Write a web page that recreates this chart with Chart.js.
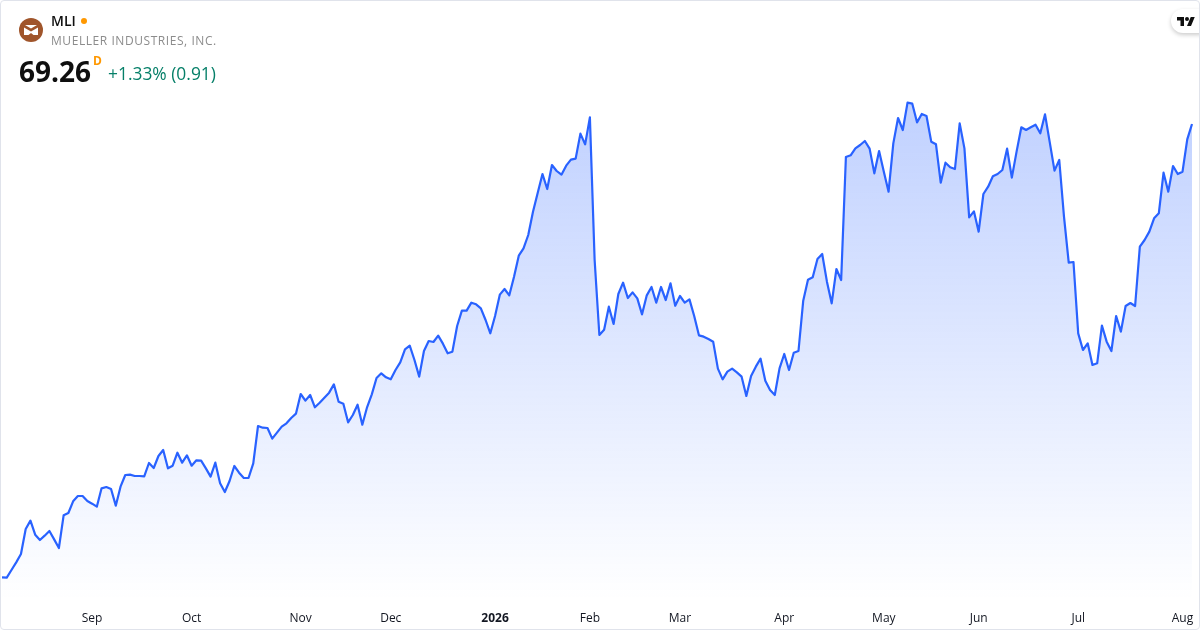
<!DOCTYPE html>
<html>
<head>
<meta charset="utf-8">
<title>MLI</title>
<script src="https://cdn.jsdelivr.net/npm/chart.js@4/dist/chart.umd.min.js"></script>
<style>
    html, body { margin: 0; padding: 0; background: #fff; }
    #card { position: relative; width: 1200px; height: 630px; overflow: hidden; font-family: "Open Sans", sans-serif; }
    #card::after { content: ''; position: absolute; left: 0; top: 0; right: 0; bottom: 0; box-sizing: border-box; border: 1px solid #e0e3eb; border-radius: 4px; pointer-events: none; }
    canvas { position: absolute; left: 0; top: 0; }
    .txt { position: absolute; white-space: nowrap; }
    #logo { position: absolute; left: 19px; top: 18px; width: 24px; height: 24px; }
    #symbol { left: 51px; top: 12px; font-size: 14px; line-height: 18px; font-weight: 600; color: #0f0f0f; }
    #dot { position: absolute; left: 81px; top: 18px; width: 6px; height: 6px; border-radius: 50%; background: #ff9800; }
    #name { left: 51px; top: 32px; font-size: 12px; line-height: 17px; letter-spacing: 0.56px; color: #8c8c8c; }
    #price { left: 19px; top: 53px; font-size: 28px; line-height: 36px; font-weight: 700; color: #0f0f0f; }
    #delayed { left: 93px; top: 54px; font-size: 12px; line-height: 14px; font-weight: 700; color: #ff9800; }
    #change { left: 108px; top: 62px; font-size: 17.4px; line-height: 23px; color: #057f68; }
    #tvbadge { position: absolute; left: 1171px; top: 9px; width: 40px; height: 24px; border-radius: 12px; background: #fff; box-shadow: 0 2px 4px rgba(0, 0, 0, 0.2); }
    #tvbadge svg { position: absolute; left: 6px; top: 6px; width: 18px; height: 14px; }
</style>
</head>
<body>
<div id="card">
    <canvas id="chart" width="1200" height="630"></canvas>
    <svg id="logo" viewBox="0 0 24 24">
        <circle cx="12" cy="12" r="12" fill="#a0552b"/>
        <path d="M6 7h12l-6 3.5z M5 9.5l7 4 7-4V17h-4.5l-2.5-2-2.5 2H5z" fill="#fff"/>
    </svg>
    <div class="txt" id="symbol">MLI</div>
    <div id="dot"></div>
    <div class="txt" id="name">MUELLER INDUSTRIES, INC.</div>
    <div class="txt" id="price">69.26</div>
    <div class="txt" id="delayed">D</div>
    <div class="txt" id="change">+1.33% (0.91)</div>
    <div id="tvbadge">
        <svg viewBox="0 0 36 28"><path d="M14 22H7V11H0V4h14v18zM28 22h-8l7.5-18h8L28 22z" fill="#0f0f0f"/><circle cx="20" cy="8" r="4" fill="#0f0f0f"/></svg>
    </div>
</div>
<script>
// Daily closes, Aug 2025 to Aug 2026
const closes = [
    42.06, 42.04, 42.5, 42.96, 43.46, 44.96, 45.46, 44.62, 44.3, 44.56, 44.84, 44.34, 43.82, 45.78, 45.92, 46.62,
    46.94, 46.94, 46.64, 46.48, 46.3, 47.4, 47.48, 47.36, 46.36, 47.5, 48.2, 48.22, 48.14, 48.14, 48.12, 48.92,
    48.62, 49.34, 49.7, 48.6, 48.76, 49.54, 48.94, 49.38, 48.76, 49.08, 49.06, 48.6, 48.1, 48.94, 47.7, 47.18,
    47.84, 48.74, 48.34, 48.02, 48.02, 48.9, 51.14, 51.04, 51.02, 50.38, 50.74, 51.1, 51.3, 51.62, 51.88,
    53.06, 52.66, 53.0, 52.26, 52.54, 52.84, 53.14, 53.64, 52.6, 52.48, 51.36, 51.8, 52.42, 51.22, 52.26, 53.04,
    54.02, 54.3, 54.06, 53.94, 54.5, 54.96, 55.74, 55.96, 55.1, 54.1, 55.64, 56.24, 56.18, 56.56, 56.08, 55.5,
    55.6, 57.14, 58.06, 58.06, 58.54, 58.44, 58.2, 57.5, 56.7, 57.74, 59.02, 59.36, 58.98,
    60.1, 61.36, 61.8, 62.6, 64.0, 65.14, 66.26, 65.36, 66.8, 66.44, 66.22, 66.76, 67.12, 67.18, 68.68, 68.04,
    69.66, 61.1, 56.6, 56.92, 58.3, 57.26, 59.06, 59.74, 58.82, 59.16, 58.8, 57.84, 58.98, 59.48, 58.54, 59.48,
    58.7, 59.7, 58.36, 58.94, 58.54, 58.74, 57.74, 56.58, 56.5, 56.36, 56.2, 54.58, 53.94, 54.4, 54.58, 54.36,
    54.1, 52.94, 54.14, 54.7, 55.18, 53.86, 53.3, 53.0, 54.6,
    55.46, 54.5, 55.54, 55.64, 58.66, 59.92, 60.06, 61.16, 61.46, 59.8, 58.5, 60.56, 59.9, 67.28, 67.38, 67.8,
    68.0, 68.24, 67.78, 66.3, 67.64, 66.4, 65.2, 68.1, 69.62, 68.9, 70.54, 70.48, 69.36, 69.86, 69.74, 68.2,
    68.04, 65.74, 66.94, 66.66, 66.56, 69.3, 67.8, 63.66, 64.02, 62.8, 65.06, 65.5, 66.12, 66.26, 66.5, 67.78,
    66.04, 67.6, 69.06, 68.9, 69.06, 69.22, 68.7, 69.84, 68.16, 66.46, 67.1, 63.7, 60.94,
    60.98, 56.7, 55.7, 56.1, 54.8, 54.9, 57.16, 56.2, 55.64, 57.74, 56.8, 58.34, 58.52, 58.34, 61.9, 62.3,
    62.8, 63.6, 63.9, 66.34, 65.2, 66.74, 66.26, 66.4, 68.34, 69.26
];
const categories = closes.map((c, i) => i);

// Month labels and the bar each one sits on
const tickIndexes = [19, 40, 63, 82, 104, 124, 143, 165, 186, 206, 227, 249];
const tickLabels = ['Sep', 'Oct', 'Nov', 'Dec', '2026', 'Feb', 'Mar', 'Apr', 'May', 'Jun', 'Jul', 'Aug'];

const priceMin = 40.7;
const priceMax = 71.3;

new Chart(document.getElementById('chart'), {
    type: 'line',
    data: {
        labels: categories,
        datasets: [{
            data: closes,
            borderColor: '#2962ff',
            borderWidth: 2.2,
            borderJoinStyle: 'round',
            pointRadius: 0,
            tension: 0,
            fill: 'start',
            backgroundColor: function(context) {
                const area = context.chart.chartArea;
                if (!area) return 'transparent';
                const gradient = context.chart.ctx.createLinearGradient(0, area.top, 0, area.bottom);
                gradient.addColorStop(0, 'rgba(41, 98, 255, 0.3)');
                gradient.addColorStop(1, 'rgba(41, 98, 255, 0)');
                return gradient;
            }
        }]
    },
    options: {
        responsive: false,
        animation: false,
        layout: { padding: { left: 2, right: 8, top: 90, bottom: 0 } },
        plugins: { legend: { display: false }, tooltip: { enabled: false } },
        scales: {
            x: {
                type: 'category',
                offset: false,
                border: { display: false },
                grid: { display: false, drawTicks: false },
                afterFit: function(axis) {
                    axis.height = 30;
                    axis.paddingLeft = 0;
                    axis.paddingRight = 0;
                },
                ticks: {
                    autoSkip: false,
                    maxRotation: 0,
                    padding: 11,
                    color: '#131722',
                    font: {
                        family: '"Open Sans", sans-serif',
                        size: 12,
                        weight: function(context) {
                            return context.tick && context.tick.label === '2026' ? 'bold' : 'normal';
                        }
                    },
                    callback: function(value, index) {
                        const pos = tickIndexes.indexOf(index);
                        return pos >= 0 ? tickLabels[pos] : null;
                    }
                }
            },
            y: { display: false, min: priceMin, max: priceMax }
        }
    }
});
</script>
</body>
</html>
